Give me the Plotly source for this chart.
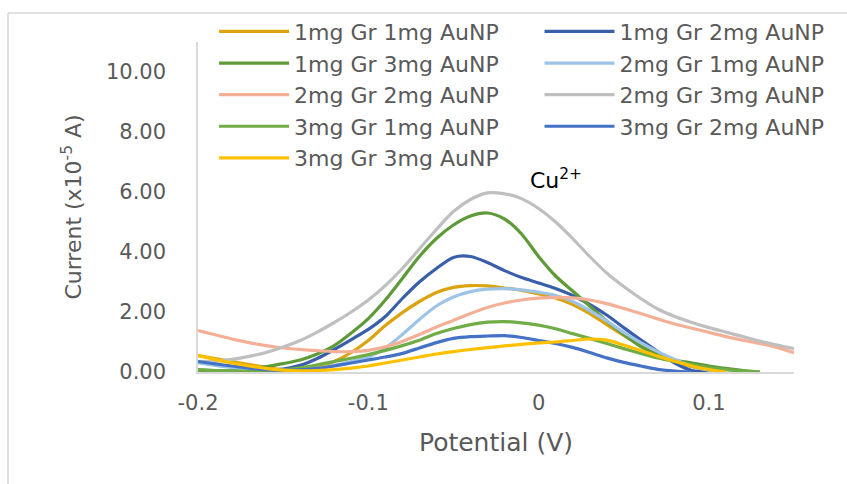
import plotly.graph_objects as go

potential = [-0.20, -0.19, -0.18, -0.17, -0.16, -0.15, -0.14, -0.13, -0.12, -0.11,
             -0.10, -0.09, -0.08, -0.07, -0.06, -0.05, -0.04, -0.03, -0.02, -0.01,
             0.00, 0.01, 0.02, 0.03, 0.04, 0.05, 0.06, 0.07, 0.08, 0.09,
             0.10, 0.11, 0.12, 0.13, 0.14, 0.15]

gr1_au1 = [0.55, 0.45, 0.35, 0.25, 0.15, 0.08, 0.06, 0.15, 0.35, 0.65,
           1.05, 1.55, 1.98, 2.35, 2.65, 2.82, 2.88, 2.87, 2.80, 2.72,
           2.60, 2.47, 2.25, 1.95, 1.58, 1.22, 0.88, 0.60, 0.36, 0.18,
           0.06, 0.00, None, None, None, None]
gr1_au2 = [0.35, 0.25, 0.17, 0.10, 0.07, 0.10, 0.22, 0.45, 0.75, 1.08,
           1.42, 1.85, 2.45, 3.00, 3.45, 3.82, 3.85, 3.65, 3.38, 3.15,
           2.97, 2.78, 2.55, 2.25, 1.90, 1.48, 1.07, 0.68, 0.30, 0.05,
           0.00, None, None, None, None, None]
gr1_au3 = [0.06, 0.04, 0.04, 0.08, 0.18, 0.28, 0.40, 0.60, 0.88, 1.30,
           1.78, 2.40, 3.12, 3.85, 4.45, 4.90, 5.20, 5.30, 5.10, 4.60,
           3.85, 3.20, 2.70, 2.20, 1.70, 1.25, 0.85, 0.57, 0.40, 0.30,
           0.20, 0.12, 0.05, 0.00, None, None]
gr2_au1 = [0.30, 0.22, 0.15, 0.10, 0.06, 0.05, 0.06, 0.12, 0.22, 0.35,
           0.50, 0.80, 1.25, 1.75, 2.20, 2.50, 2.68, 2.76, 2.78, 2.74,
           2.66, 2.55, 2.35, 2.05, 1.70, 1.32, 0.98, 0.68, 0.42, 0.20,
           0.06, 0.00, None, None, None, None]
gr2_au2 = [1.38, 1.24, 1.10, 0.98, 0.88, 0.80, 0.75, 0.71, 0.68, 0.68,
           0.72, 0.84, 1.02, 1.25, 1.50, 1.72, 1.95, 2.15, 2.30, 2.40,
           2.46, 2.49, 2.47, 2.40, 2.28, 2.12, 1.95, 1.77, 1.60, 1.46,
           1.32, 1.18, 1.06, 0.95, 0.82, 0.64]
gr2_au3 = [0.35, 0.36, 0.42, 0.52, 0.65, 0.83, 1.05, 1.33, 1.65, 2.00,
           2.40, 2.88, 3.45, 4.10, 4.75, 5.35, 5.75, 5.97, 5.94, 5.78,
           5.45, 5.00, 4.45, 3.85, 3.30, 2.85, 2.45, 2.10, 1.85, 1.65,
           1.48, 1.33, 1.18, 1.03, 0.90, 0.78]
gr3_au1 = [0.08, 0.05, 0.03, 0.02, 0.03, 0.07, 0.14, 0.24, 0.35, 0.46,
           0.58, 0.72, 0.88, 1.06, 1.28, 1.45, 1.58, 1.66, 1.68, 1.64,
           1.56, 1.44, 1.28, 1.12, 0.95, 0.78, 0.62, 0.47, 0.35, 0.24,
           0.15, 0.08, 0.03, 0.00, None, None]
gr3_au2 = [0.35, 0.27, 0.20, 0.13, 0.08, 0.06, 0.07, 0.12, 0.20, 0.30,
           0.40, 0.50, 0.62, 0.80, 0.98, 1.12, 1.18, 1.20, 1.21, 1.15,
           1.05, 0.95, 0.82, 0.65, 0.47, 0.32, 0.20, 0.09, 0.03, 0.00,
           None, None, None, None, None, None]
gr3_au3 = [0.55, 0.42, 0.30, 0.20, 0.12, 0.06, 0.04, 0.05, 0.08, 0.13,
           0.20, 0.30, 0.40, 0.50, 0.60, 0.68, 0.75, 0.81, 0.87, 0.92,
           0.97, 1.00, 1.05, 1.10, 1.06, 0.90, 0.72, 0.53, 0.36, 0.20,
           0.08, 0.00, None, None, None, None]

series_names = ["1mg Gr 1mg AuNP", "1mg Gr 2mg AuNP", "1mg Gr 3mg AuNP",
                "2mg Gr 1mg AuNP", "2mg Gr 2mg AuNP", "2mg Gr 3mg AuNP",
                "3mg Gr 1mg AuNP", "3mg Gr 2mg AuNP", "3mg Gr 3mg AuNP"]
series_values = [gr1_au1, gr1_au2, gr1_au3, gr2_au1, gr2_au2, gr2_au3,
                 gr3_au1, gr3_au2, gr3_au3]
series_colors = ["#DBA40E", "#3A5FAA", "#5E9A38", "#9DC3E6", "#F4B096",
                 "#BFBFBF", "#70AD47", "#4472C4", "#FFC000"]

x_tickvals = [-0.2, -0.1, 0.0, 0.1]
x_ticktext = ["-0.2", "-0.1", "0", "0.1"]
y_tickvals = [0, 2, 4, 6, 8, 10]
y_ticktext = ["0.00", "2.00", "4.00", "6.00", "8.00", "10.00"]

FONT = "DejaVu Sans"
GREY = "#595959"
BORDER = "#D6D6D6"

fig = go.Figure()
for i, (name, vals, col) in enumerate(zip(series_names, series_values, series_colors)):
    fig.add_trace(go.Scatter(
        x=potential, y=vals, name=name, mode="lines",
        line=dict(color=col, width=3.2, shape="spline", smoothing=0.8),
        legend="legend" if i % 2 == 0 else "legend2",
        connectgaps=False,
    ))

legend_common = dict(
    orientation="v", xanchor="left", yanchor="top",
    font=dict(family=FONT, size=22, color=GREY),
    itemwidth=70, bgcolor="rgba(0,0,0,0)", borderwidth=0,
    tracegroupgap=0, itemclick=False,
)

fig.update_layout(
    width=847, height=484,
    margin=dict(l=198, r=53, t=42, b=112, autoexpand=False),
    paper_bgcolor="white", plot_bgcolor="white",
    font=dict(family=FONT, color=GREY),
    legend=dict(x=0.027, y=1.095, **legend_common),
    legend2=dict(x=0.573, y=1.095, **legend_common),
    xaxis=dict(
        range=[-0.2, 0.15], tickvals=x_tickvals, ticktext=x_ticktext,
        showgrid=False, zeroline=False, showline=True, linecolor="#D9D9D9",
        linewidth=1.5, ticks="", ticklabelstandoff=11, automargin=False,
        tickfont=dict(family=FONT, size=21, color=GREY),
        title=dict(text="Potential (V)", font=dict(family=FONT, size=25, color=GREY),
                   standoff=20),
    ),
    yaxis=dict(
        range=[0, 11], tickvals=y_tickvals, ticktext=y_ticktext,
        showgrid=False, zeroline=False, showline=True, linecolor="#D9D9D9",
        linewidth=1.5, ticks="", ticklabelstandoff=26, automargin=False,
        tickfont=dict(family=FONT, size=21, color=GREY),
        title=dict(text="Current (x10<sup>-5</sup> A)",
                   font=dict(family=FONT, size=22, color=GREY), standoff=18),
    ),
    shapes=[
        dict(type="line", xref="paper", yref="paper",
             x0=-0.3188, x1=1.10, y0=1.088, y1=1.088,
             line=dict(color=BORDER, width=1.5), layer="above"),
        dict(type="line", xref="paper", yref="paper",
             x0=-0.3188, x1=-0.3188, y0=-0.40, y1=1.088,
             line=dict(color=BORDER, width=1.5), layer="above"),
    ],
    annotations=[dict(text="Cu<sup>2+</sup>", x=-0.0065, y=6.45, xref="x", yref="y",
                      xanchor="left", yanchor="middle", showarrow=False,
                      font=dict(family=FONT, size=22, color="#000000"))],
)

fig.write_html("out.html", config={"displayModeBar": False},
               post_script="document.body.style.margin='0';document.body.style.overflow='hidden';")
